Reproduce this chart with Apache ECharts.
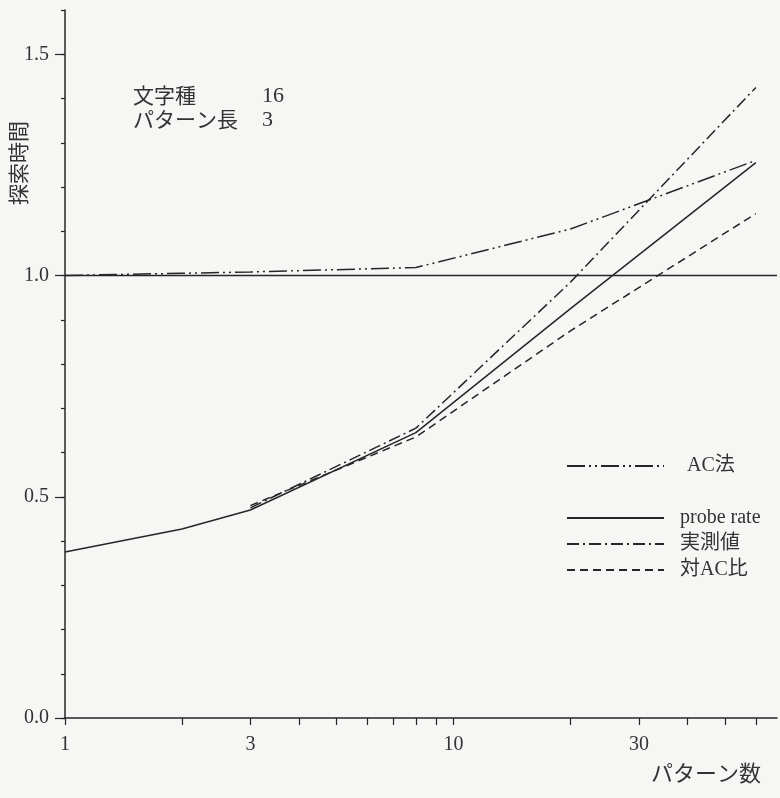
<!DOCTYPE html>
<html>
<head>
<meta charset="utf-8">
<script src="https://cdn.jsdelivr.net/npm/echarts@6/dist/echarts.min.js"></script>
<style>
  html, body { margin: 0; padding: 0; background: #f6f6f4; }
  #chart { width: 780px; height: 798px; }
</style>
</head>
<body>
<div id="chart"></div>
<script>
// pattern counts (x, log scale)
const xAC = [1, 2, 3, 8, 20, 60];
const xProbe = [1, 2, 3, 8, 20, 60];
const xMeasured = [3, 8, 20, 60];
const xRatio = [3, 8, 20, 60];

// search time values
const acValues = [1.0, 1.005, 1.008, 1.018, 1.105, 1.26];
const probeValues = [0.375, 0.427, 0.47, 0.645, 0.925, 1.255];
const measuredValues = [0.475, 0.655, 0.985, 1.425];
const ratioValues = [0.48, 0.635, 0.875, 1.14];

const xTickValues = [1, 2, 3, 4, 5, 6, 7, 8, 9, 10, 20, 30, 40, 50, 60];
const xLabelValues = [1, 3, 10, 30];
const yMajorTicks = [0, 0.5, 1.0, 1.5];

const ink = '#262626';
const serif = '"Liberation Serif", "DejaVu Serif", serif';
const mixed = '"Liberation Serif", "Noto Sans CJK JP", serif';

const pairs = (xs, ys) => xs.map((x, i) => [x, ys[i]]);

const chart = echarts.init(document.getElementById('chart'));

const lineSeries = (name, xs, ys, type) => ({
  name: name,
  type: 'line',
  data: pairs(xs, ys),
  symbol: 'none',
  showSymbol: false,
  lineStyle: { color: ink, width: 1.5, type: type },
  itemStyle: { color: ink },
  emphasis: { disabled: true },
  silent: true
});

const option = {
  backgroundColor: '#f6f6f4',
  animation: false,
  grid: { left: 65, right: 3, top: 10, bottom: 80, outerBoundsMode: 'none' },
  xAxis: {
    type: 'log',
    logBase: 10,
    min: 1,
    max: 68,
    axisLine: { lineStyle: { color: ink, width: 1.5 } },
    axisTick: { customValues: xTickValues, length: 7, lineStyle: { color: ink, width: 1.2 } },
    axisLabel: {
      customValues: xLabelValues,
      margin: 17,
      color: '#333',
      fontSize: 20,
      fontFamily: serif
    },
    splitLine: { show: false },
    minorTick: { show: false }
  },
  yAxis: [
    {
      type: 'value',
      min: 0,
      max: 1.6,
      interval: 0.1,
      axisLine: { lineStyle: { color: ink, width: 1.5 } },
      axisTick: { length: 4, lineStyle: { color: ink, width: 1.2 } },
      axisLabel: {
        margin: 16,
        color: '#333',
        fontSize: 20,
        fontFamily: serif,
        formatter: v => Math.abs(v * 2 - Math.round(v * 2)) < 1e-6 ? v.toFixed(1) : ''
      },
      splitLine: { show: false }
    },
    {
      type: 'value',
      min: 0,
      max: 1.6,
      position: 'left',
      axisLine: { show: false },
      axisTick: { customValues: yMajorTicks, length: 10, lineStyle: { color: ink, width: 1.2 } },
      axisLabel: { show: false },
      splitLine: { show: false }
    }
  ],
  legend: [
    {
      data: ['AC法'],
      left: 561,
      top: 451,
      itemWidth: 97,
      itemHeight: 14,
      selectedMode: false,
      itemStyle: { opacity: 0 },
      textStyle: { fontSize: 20, fontFamily: mixed, color: '#333', padding: [0, 0, 0, 18] }
    },
    {
      data: ['probe rate', '実測値', '対AC比'],
      orient: 'vertical',
      left: 561,
      top: 502,
      itemWidth: 97,
      itemHeight: 14,
      itemGap: 4,
      selectedMode: false,
      itemStyle: { opacity: 0 },
      textStyle: { fontSize: 20, lineHeight: 22, fontFamily: mixed, color: '#333', padding: [0, 0, 0, 11] }
    }
  ],
  graphic: [
    {
      type: 'text',
      left: 133, top: 85,
      style: { text: '文字種', font: '21px "Noto Sans CJK JP"', fill: '#333' }
    },
    {
      type: 'text',
      left: 262, top: 85,
      style: { text: '16', font: '22px "Liberation Serif"', fill: '#333' }
    },
    {
      type: 'text',
      left: 133, top: 109,
      style: { text: 'パターン長', font: '21px "Noto Sans CJK JP"', fill: '#333' }
    },
    {
      type: 'text',
      left: 262, top: 109,
      style: { text: '3', font: '22px "Liberation Serif"', fill: '#333' }
    },
    {
      type: 'text',
      x: 8, y: 205,
      rotation: Math.PI / 2,
      style: { text: '探索時間', font: '21px "Noto Sans CJK JP"', fill: '#333' }
    },
    {
      type: 'text',
      left: 651, top: 762,
      style: { text: 'パターン数', font: '22px "Noto Sans CJK JP"', fill: '#333' }
    }
  ],
  series: [
    lineSeries('AC法', xAC, acValues, [18, 4, 2, 4, 2, 4]),
    Object.assign(lineSeries('probe rate', xProbe, probeValues, 'solid'), {
      markLine: {
        silent: true,
        symbol: ['none', 'none'],
        label: { show: false },
        lineStyle: { color: ink, width: 1.3, type: 'solid' },
        data: [{ yAxis: 1.0 }]
      }
    }),
    lineSeries('実測値', xMeasured, measuredValues, [12, 4, 2, 4]),
    lineSeries('対AC比', xRatio, ratioValues, [8, 5])
  ]
};

chart.setOption(option);
</script>
</body>
</html>
